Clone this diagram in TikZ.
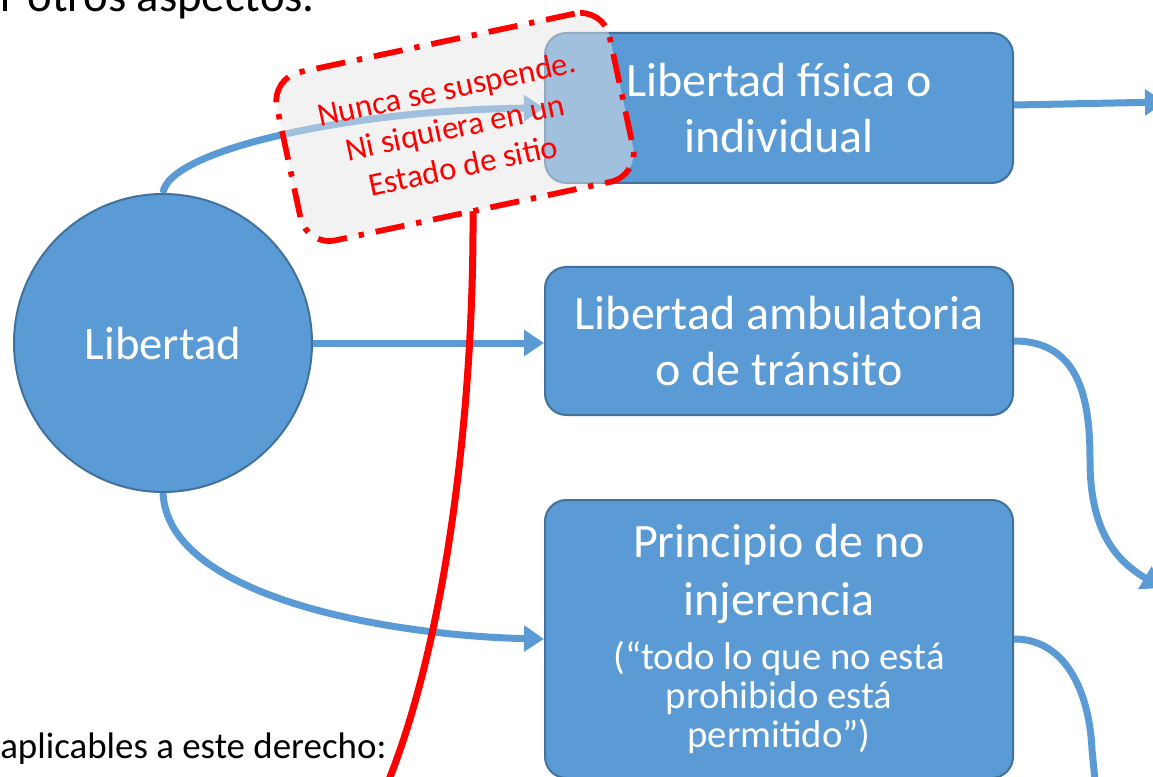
\documentclass[tikz,border=0pt]{standalone}
\usepackage{fontspec}
\setmainfont{Carlito}
\usetikzlibrary{arrows.meta,calc}
\definecolor{bfill}{HTML}{5B9BD5}
\definecolor{bline}{HTML}{41719C}
\definecolor{cgray}{HTML}{E5E5E5}
\definecolor{cred}{HTML}{FF0000}
\begin{document}
\begin{tikzpicture}[x=0.75pt,y=-0.75pt,
  box/.style={draw=bline, line width=1.5pt, fill=bfill, rounded corners=16pt,
    minimum width=351pt, text=white, align=center, inner sep=0pt,
    font=\fontsize{36}{42}\selectfont},
  conn/.style={draw=bfill, line width=5.25pt, -{Triangle[length=15pt,width=19pt]}},
  connopen/.style={draw=bfill, line width=5.25pt},
  callout/.style={draw=cred, line width=4.3pt, fill=cgray, fill opacity=0.5,
    text opacity=1, rounded corners=22pt, dash pattern=on 22pt off 9pt on 4pt off 9pt,
    minimum width=255pt, minimum height=129pt, rotate=12, text=cred, align=center,
    font=\fontsize{24.5}{29.5}\selectfont},
  redline/.style={draw=cred, line width=5.25pt},
  plain/.style={inner sep=0pt, text=black}]
\useasboundingbox (0,0) rectangle (1153,777);

% page texts
\node[plain, anchor=base east, font=\fontsize{35}{42}\selectfont] (t1) at (315,12) {r otros aspectos.};
\node[plain, anchor=base west, font=\fontsize{27.7}{33}\selectfont] (t2) at (0,758) {aplicables a este derecho:};

% shapes
\node[circle, draw=bline, line width=1.5pt, fill=bfill, minimum size=223.5pt, text=white,
  font=\fontsize{35}{42}\selectfont] (lib) at (163,343) {Libertad};
\node[box, minimum height=112.5pt] (b1) at (779,108) {Libertad física o\\individual};
\node[box, minimum height=111pt] (b2) at (779,341) {Libertad ambulatoria\\o de tránsito};
\node[box, minimum height=208.5pt] (b3) at (779,639) {\parbox{340pt}{\centering
  \fontsize{36}{43.5}\selectfont Principio de no\\injerencia\par
  \vspace{11pt}\fontsize{29}{29.5}\selectfont (“todo lo que no está\\prohibido está\\permitido”)\par}};

% free ends
\coordinate (e1) at (1165,102);
\coordinate (e2) at (1162,588);
\coordinate (e3) at (1096,790);
\coordinate (r1) at (384,792);
\coordinate (c0) at (455,127);

% connectors
\draw[conn] (lib.east) -- (lib.east -| b2.west);
\draw[conn] (lib.north) .. controls (168,150) and (350,110) .. (b1.west);
\draw[conn] (lib.south) .. controls (168,600) and (400,636) .. (b3.west);
\draw[conn] ($(b1.east)+(0,-3)$) -- (e1);
\draw[conn] (b2.east) .. controls (1080,341) and (1090,400) .. (1090,460)
  .. controls (1090,530) and (1115,560) .. (e2);
\draw[connopen] (b3.east) .. controls (1070,639) and (1090,700) .. (1092,750) -- (e3);

% callout
\coordinate (cs) at ($(c0)+(18,84)$);
\draw[redline] (cs) .. controls +(1,190) and (448,640) .. (r1);
\node[callout] (co) at (c0) {Nunca se suspende.\\Ni siquiera en un\\Estado de sitio};
\end{tikzpicture}
\end{document}
